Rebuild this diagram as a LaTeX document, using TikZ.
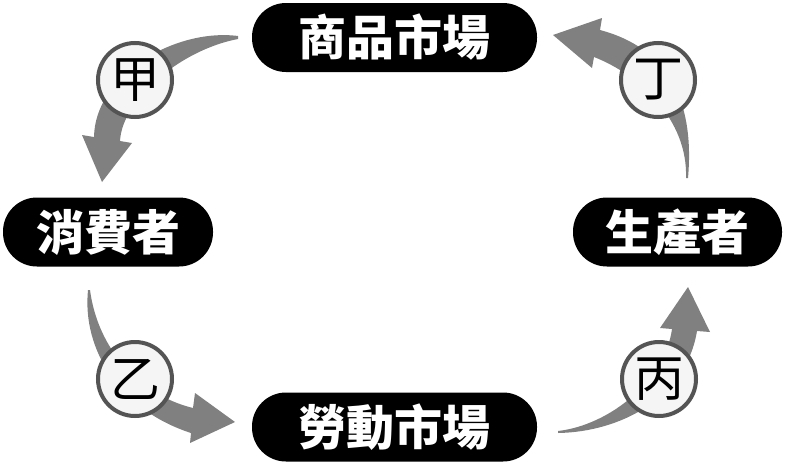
\documentclass[tikz,border=0pt]{standalone}
\usepackage{fontspec}
\newfontfamily\cjk{Noto Sans CJK TC}
\definecolor{flowgray}{gray}{0.5}
\definecolor{tagfill}{gray}{0.96}
\definecolor{tagline}{gray}{0.33}
\begin{document}
\begin{tikzpicture}[x=1pt,y=-1pt,
  market/.style={fill=black,text=white,rounded corners=34pt,minimum height=69pt,inner sep=0pt,font=\cjk\bfseries\fontsize{48}{48}\selectfont},
  tag/.style={circle,draw=tagline,line width=4pt,fill=tagfill,minimum size=74pt,inner sep=0pt,font=\cjk\fontsize{50}{50}\selectfont},
  flow/.style={fill=flowgray}]
  \useasboundingbox (0,0) rectangle (786,466);
  \node[market,minimum width=285pt] (goods)    at (394.5,37.5) {商品市場};
  \node[market,minimum width=285pt] (labour)   at (394.5,427)  {勞動市場};
  \node[market,minimum width=210pt] (consumer) at (108,232)    {消費者};
  \node[market,minimum width=209pt] (producer) at (677.5,232)  {生產者};
  \fill[flow] (238,36) .. controls (175,28) and (95,75) .. (94,137) -- (82,135) -- (102,182) -- (132,143) -- (120,141)
     .. controls (122,100) and (180,50) .. (238,39) -- cycle;
  \fill[flow] (88,290) .. controls (82,350) and (120,410) .. (191,433) -- (190,443) -- (235,422) -- (195,393) -- (193,408)
     .. controls (140,395) and (98,350) .. (90,290) -- cycle;
  \fill[flow] (558,433) .. controls (620,432) and (686,398) .. (697,331) -- (710,332) -- (688,287) -- (660,328) -- (672,329)
     .. controls (665,380) and (610,425) .. (558,431) -- cycle;
  \fill[flow] (688,178) .. controls (694,110) and (675,50) .. (600,30) -- (602,18) -- (553,35) -- (592,68) -- (594,57)
     .. controls (640,75) and (688,120) .. (686,178) -- cycle;
  \node[tag] (jia)  at (135,80)  {甲};
  \node[tag] (yi)   at (135,379) {乙};
  \node[tag] (bing) at (659,379) {丙};
  \node[tag] (ding) at (658,80)  {丁};
\end{tikzpicture}
\end{document}
